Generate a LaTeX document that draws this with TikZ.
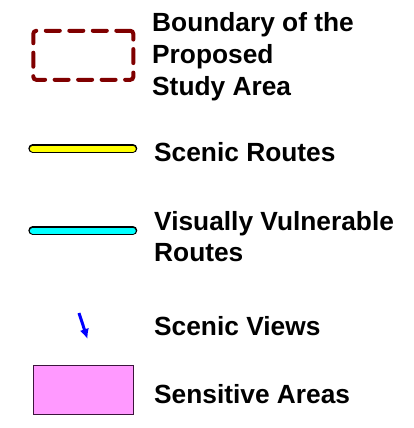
\documentclass[tikz,border=0pt]{standalone}
\usepackage{fontspec}
\setmainfont{Liberation Sans}
\usetikzlibrary{arrows.meta, positioning}
\definecolor{boundred}{RGB}{128,0,0}
\definecolor{viewblue}{RGB}{0,0,255}
\definecolor{sensepink}{RGB}{255,153,255}
\definecolor{sensedge}{RGB}{60,20,60}
\definecolor{scenicyellow}{RGB}{255,255,0}
\definecolor{vulncyan}{RGB}{0,255,255}

\begin{document}
\begin{tikzpicture}[x=1pt, y=-1pt, every node/.style={font=\bfseries\fontsize{26.3}{31.7}\selectfont}]
    \tikzset{legendlabel/.style={anchor=base west, inner sep=0pt, align=left},
             legendbox/.style={rectangle, minimum width=100pt, minimum height=49pt, inner sep=0pt},
             routeline/.style={line width=9pt, line cap=round}}
    \useasboundingbox (0,0) rectangle (414,428);
    % symbols
    \node[legendbox, draw=boundred, line width=4pt, rounded corners=3pt, line cap=round,
          dash pattern=on 14pt off 9.5pt] (bound) at (83.3,55.3) {};
    \coordinate (ys) at (32.8,148.5);
    \coordinate (ye) at (132.8,148.5);
    \coordinate (cs) at (32.8,230.5);
    \coordinate (ce) at (132.8,230.5);
    \foreach \a/\b/\c in {ys/ye/scenicyellow, cs/ce/vulncyan} {
      \draw[routeline, black] (\a) -- (\b);
      \draw[routeline, line width=6pt, \c] (\a) -- (\b);
    }
    \coordinate (vs) at (79,313);
    \coordinate (ve) at (87.5,339);
    \draw[viewblue, line width=3pt, -{Latex[length=10pt,width=9.5pt]}] (vs) -- (ve);
    \node[legendbox, fill=sensepink, draw=sensedge, line width=1.2pt] (sense) at (83.3,390.3) {};
    % labels (base = last line)
    \node[legendlabel] (boundtxt) at (152,95) {Boundary of the\\Proposed\\Study Area};
    \node[legendlabel] (scenictxt) at (154,161) {Scenic Routes};
    \node[legendlabel] (vulntxt) at (154,261.7) {Visually Vulnerable\\Routes};
    \node[legendlabel] (viewtxt) at (154,335.7) {Scenic Views};
    \node[legendlabel] (sensetxt) at (154,403.3) {Sensitive Areas};
\end{tikzpicture}
\end{document}
